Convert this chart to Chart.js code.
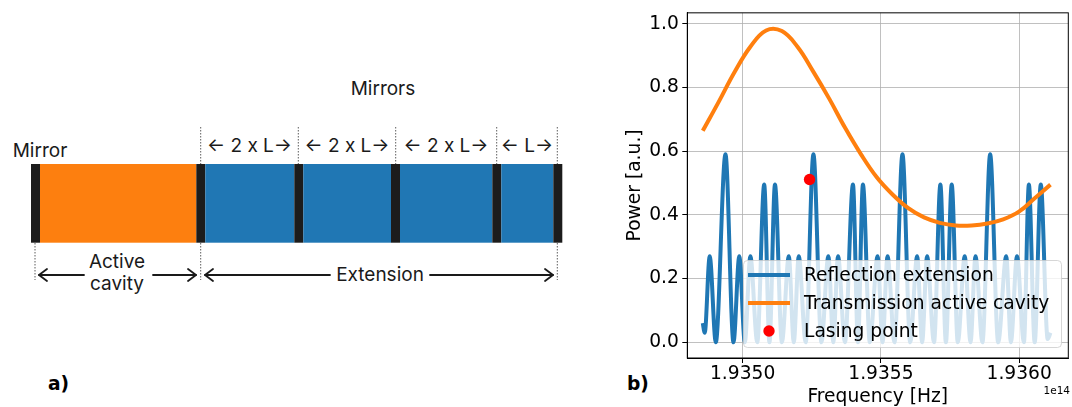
<!DOCTYPE html>
<html>
<head>
<meta charset="utf-8">
<script src="https://cdn.jsdelivr.net/npm/chart.js"></script>
<style>
  html, body { margin: 0; padding: 0; background: #fff; overflow: hidden; width: 1072px; height: 407px; }
  #diagram { position: absolute; left: 0; top: 0; }
  #chartBox { position: absolute; left: 590px; top: 0; width: 484px; height: 407px; }
  .dg { font-family: Inter, "Noto Sans", sans-serif; font-size: 19px; fill: #1a1a1a; }
  .panel { font-family: "DejaVu Sans", sans-serif; font-weight: bold; font-size: 18.67px; fill: #000; }
</style>
</head>
<body>
<svg id="diagram" width="590" height="407" xmlns="http://www.w3.org/2000/svg">
  <text class="dg" x="383" y="95" text-anchor="middle">Mirrors</text>
  <text class="dg" x="12.7" y="156.5">Mirror</text>
  <text class="dg" x="249.5" y="151.7" text-anchor="middle">← 2 x L→</text>
  <text class="dg" x="347" y="151.7" text-anchor="middle">← 2 x L→</text>
  <text class="dg" x="446" y="151.7" text-anchor="middle">← 2 x L→</text>
  <text class="dg" x="527" y="151.7" text-anchor="middle">← L→</text>
  <g stroke="#333" stroke-width="0.8" stroke-dasharray="1.5,1.5">
    <line x1="200.7" y1="127" x2="200.7" y2="164"/>
    <line x1="298.3" y1="127" x2="298.3" y2="164"/>
    <line x1="395.7" y1="127" x2="395.7" y2="164"/>
    <line x1="496.7" y1="127" x2="496.7" y2="164"/>
    <line x1="557.3" y1="127" x2="557.3" y2="164"/>
    <line x1="35" y1="243" x2="35" y2="280"/>
    <line x1="200.7" y1="243" x2="200.7" y2="280"/>
    <line x1="557.3" y1="243" x2="557.3" y2="280"/>
  </g>
  <g>
    <rect x="31" y="164" width="9" height="78.7" fill="#1c1c1c"/>
    <rect x="40" y="164" width="156.3" height="78.7" fill="#fd7f0f"/>
    <rect x="196.3" y="164" width="9" height="78.7" fill="#1c1c1c"/>
    <rect x="205.3" y="164" width="89" height="78.7" fill="#2077b4"/>
    <rect x="294.3" y="164" width="9" height="78.7" fill="#1c1c1c"/>
    <rect x="303.3" y="164" width="87.7" height="78.7" fill="#2077b4"/>
    <rect x="391" y="164" width="9" height="78.7" fill="#1c1c1c"/>
    <rect x="400" y="164" width="92.3" height="78.7" fill="#2077b4"/>
    <rect x="492.3" y="164" width="9" height="78.7" fill="#1c1c1c"/>
    <rect x="501.3" y="164" width="52" height="78.7" fill="#2077b4"/>
    <rect x="553.3" y="164" width="9" height="78.7" fill="#1c1c1c"/>
  </g>
  <text class="dg" x="117" y="268.3" text-anchor="middle">Active</text>
  <text class="dg" x="117" y="290" text-anchor="middle">cavity</text>
  <text class="dg" x="380" y="281" text-anchor="middle">Extension</text>
  <g stroke="#1a1a1a" stroke-width="1.8" fill="none" stroke-linecap="round" stroke-linejoin="round">
    <line x1="39" y1="275" x2="84" y2="275"/>
    <path d="M47 269 L39 275 L47 281"/>
    <line x1="153" y1="275" x2="196" y2="275"/>
    <path d="M188 269 L196 275 L188 281"/>
    <line x1="205" y1="275" x2="330" y2="275"/>
    <path d="M213 269 L205 275 L213 281"/>
    <line x1="430" y1="275" x2="553" y2="275"/>
    <path d="M545 269 L553 275 L545 281"/>
  </g>
  <text class="panel" x="48" y="389.5">a)</text>
</svg>
<svg style="position:absolute;left:600px;top:360px" width="60" height="40" xmlns="http://www.w3.org/2000/svg">
  <text class="panel" x="27" y="29.5">b)</text>
</svg>
<div id="chartBox"><canvas id="c" width="484" height="407"></canvas></div>
<script>
// ---- data (frequency in units of 1e14 Hz) ----
const reflectionFreq = [1.934856,1.934863,1.934881,1.934903,1.934938,1.934967,1.934988,1.935008,1.935028,1.935053,1.935078,1.935097,1.935117,1.935142,1.935167,1.935185,1.935203,1.935228,1.935256,1.935285,1.935310,1.935328,1.935345,1.935370,1.935399,1.935417,1.935435,1.935460,1.935488,1.935506,1.935524,1.935549,1.935578,1.935606,1.935631,1.935649,1.935667,1.935692,1.935715,1.935735,1.935756,1.935778,1.935803,1.935824,1.935842,1.935867,1.935895,1.935924,1.935953,1.935970,1.935992,1.936017,1.936035,1.936056,1.936078,1.936103,1.936113];
const reflectionPower = [0.06,0.03,0.27,0.00,0.59,0.00,0.27,0.00,0.27,0.00,0.495,0.00,0.495,0.00,0.27,0.00,0.27,0.00,0.59,0.00,0.27,0.00,0.27,0.00,0.495,0.00,0.495,0.00,0.27,0.00,0.27,0.00,0.59,0.00,0.27,0.00,0.27,0.00,0.495,0.00,0.495,0.00,0.27,0.00,0.27,0.00,0.59,0.00,0.27,0.00,0.27,0.00,0.495,0.00,0.495,0.01,0.03];
const transmissionFreq = [1.934856,1.934913,1.934970,1.935028,1.935085,1.935142,1.935199,1.935256,1.935313,1.935370,1.935428,1.935485,1.935542,1.935599,1.935656,1.935713,1.935770,1.935828,1.935885,1.935942,1.935999,1.936056,1.936113];
const transmissionPower = [0.664,0.754,0.847,0.928,0.979,0.977,0.927,0.849,0.765,0.674,0.590,0.518,0.464,0.421,0.392,0.375,0.367,0.367,0.373,0.386,0.41,0.452,0.495];
const lasingFreq = [1.935242];
const lasingPower = [0.511];
const seriesLabels = ['Reflection extension', 'Transmission active cavity', 'Lasing point'];
const xTicks = [1.9350, 1.9355, 1.9360];
const xTickLabels = ['1.9350', '1.9355', '1.9360'];
const yTicks = [0.0, 0.2, 0.4, 0.6, 0.8, 1.0];
const yTickLabels = ['0.0', '0.2', '0.4', '0.6', '0.8', '1.0'];
const xAxisTitle = 'Frequency [Hz]';
const yAxisTitle = 'Power [a.u.]';
const offsetText = '1e14';

const toPoints = (xs, ys) => xs.map((x, i) => ({x: x, y: ys[i]}));
const FONT = '"DejaVu Sans", sans-serif';
const BLUE = '#1f77b4', ORANGE = '#ff7f0e', RED = '#ff0000';

const overlay = {
  id: 'overlay',
  afterDatasetsDraw(chart) {
    const ctx = chart.ctx, a = chart.chartArea;
    ctx.save();
    // spines
    ctx.strokeStyle = '#000';
    ctx.lineWidth = 1;
    ctx.strokeRect(a.left, a.top, a.right - a.left, a.bottom - a.top);
    // legend
    const bx = 153, by = 260, bw = 318, bh = 87;
    ctx.beginPath();
    ctx.roundRect(bx + 0.5, by + 0.5, bw, bh, 4);
    ctx.fillStyle = 'rgba(255,255,255,0.8)';
    ctx.fill();
    ctx.strokeStyle = 'rgba(204,204,204,0.8)';
    ctx.lineWidth = 1;
    ctx.stroke();
    const rows = [275, 303, 331];
    ctx.font = '18.67px ' + FONT;
    ctx.textBaseline = 'middle';
    ctx.textAlign = 'left';
    chart.data.datasets.forEach((ds, i) => {
      const y = rows[i];
      if (ds.showLine === false) {
        ctx.beginPath();
        ctx.arc(179, y, 5.7, 0, Math.PI * 2);
        ctx.fillStyle = ds.backgroundColor;
        ctx.fill();
      } else {
        ctx.beginPath();
        ctx.moveTo(158, y);
        ctx.lineTo(200, y);
        ctx.strokeStyle = ds.borderColor;
        ctx.lineWidth = 4;
        ctx.stroke();
      }
      ctx.fillStyle = '#000';
      ctx.fillText(ds.label, 214, y + 1);
    });
    // offset text
    ctx.font = '10.5px ' + FONT;
    ctx.textAlign = 'right';
    ctx.fillText(offsetText, 480, 391);
    ctx.restore();
  }
};

new Chart(document.getElementById('c'), {
  type: 'line',
  data: {
    datasets: [
      { label: seriesLabels[0], data: toPoints(reflectionFreq, reflectionPower), borderColor: BLUE, backgroundColor: BLUE,
        borderWidth: 4, pointRadius: 0, cubicInterpolationMode: 'monotone', fill: false, order: 3 },
      { label: seriesLabels[1], data: toPoints(transmissionFreq, transmissionPower), borderColor: ORANGE, backgroundColor: ORANGE,
        borderWidth: 4, pointRadius: 0, tension: 0.4, fill: false, order: 2 },
      { label: seriesLabels[2], data: toPoints(lasingFreq, lasingPower), borderColor: RED, backgroundColor: RED,
        showLine: false, pointRadius: 5.7, pointBorderWidth: 0, order: 1 }
    ]
  },
  options: {
    responsive: false,
    animation: false,
    devicePixelRatio: 1,
    layout: { padding: { top: 10, right: 1, left: 0, bottom: 0 } },
    plugins: { legend: { display: false }, tooltip: { enabled: false } },
    scales: {
      x: {
        type: 'linear', min: 1.9348, max: 1.9361775,
        afterBuildTicks: s => { s.ticks = xTicks.map(v => ({value: v})); },
        afterFit: s => { s.height = 49; },
        grid: { color: '#b0b0b0', lineWidth: 0.8, drawTicks: true, tickLength: 5, tickColor: '#000', tickWidth: 1 },
        border: { display: true, color: '#000', width: 1 },
        ticks: { autoSkip: false, maxRotation: 0, padding: 2, color: '#000', font: { family: FONT, size: 18.67, lineHeight: 1 },
                 callback: (v, i) => xTickLabels[i] },
        title: { display: true, text: xAxisTitle, color: '#000', font: { family: FONT, size: 18.67, lineHeight: 1 }, padding: { top: 0, bottom: 0.7 } }
      },
      y: {
        type: 'linear', min: -0.0493, max: 1.0343,
        afterBuildTicks: s => { s.ticks = yTicks.map(v => ({value: v})); },
        afterFit: s => { s.width = 97.3; },
        grid: { color: '#b0b0b0', lineWidth: 0.8, drawTicks: true, tickLength: 5, tickColor: '#000', tickWidth: 1 },
        border: { display: true, color: '#000', width: 1 },
        ticks: { autoSkip: false, padding: 3.5, color: '#000', font: { family: FONT, size: 18.67, lineHeight: 1 },
                 callback: (v, i) => yTickLabels[i] },
        title: { display: true, text: yAxisTitle, color: '#000', font: { family: FONT, size: 18.67, lineHeight: 1 }, padding: { top: 35.7, bottom: 0 } }
      }
    }
  },
  plugins: [overlay]
});
</script>
</body>
</html>
